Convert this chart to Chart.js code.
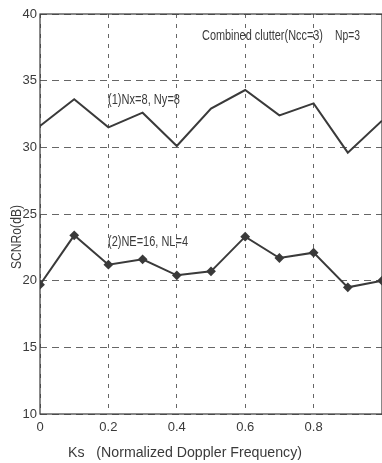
<!DOCTYPE html>
<html>
<head>
<meta charset="utf-8">
<script src="https://cdn.jsdelivr.net/npm/chart.js@4"></script>
<style>
  html, body { margin: 0; padding: 0; background: #fff; overflow: hidden; }
  #wrap { width: 388px; height: 463px; }
</style>
</head>
<body>
<div id="wrap"><canvas id="lineChart"></canvas></div>
<script>
const ks = [0, 0.1, 0.2, 0.3, 0.4, 0.5, 0.6, 0.7, 0.8, 0.9, 1.0]
const nxny = [31.6, 33.6, 31.5, 32.6, 30.1, 32.9, 34.3, 32.4, 33.3, 29.6, 32.0]
const neNl = [19.7, 23.4, 21.2, 21.6, 20.4, 20.7, 23.3, 21.7, 22.1, 19.5, 20.0]
const xTicks = [0, 0.2, 0.4, 0.6, 0.8]
const yTicks = [10, 15, 20, 25, 30, 35, 40]

const FONT = '"Liberation Sans", Arial, sans-serif'
const INK = '#3a3a3a'

// text squeezed into a given width (the scan uses a narrow face)
function narrow(ctx, text, x, y, width) {
    const w = ctx.measureText(text).width
    ctx.save()
    ctx.translate(x, y)
    ctx.scale(width / w, 1)
    ctx.fillText(text, 0, 0)
    ctx.restore()
}

// frame + annotations, drawn on top
const paperPlugin = {
    id: 'paper',
    afterDraw(chart) {
        const ctx = chart.ctx
        const a = chart.chartArea
        ctx.save()
        ctx.strokeStyle = INK
        ctx.lineWidth = 1.2
        ctx.strokeRect(a.left, a.top, a.right - a.left, a.bottom - a.top)

        ctx.fillStyle = INK
        ctx.font = '14px ' + FONT
        ctx.textBaseline = 'middle'
        ctx.textAlign = 'left'
        narrow(ctx, 'Combined clutter(Ncc=3)', 202, 36, 121)
        narrow(ctx, 'Np=3', 335, 36, 25)
        narrow(ctx, '(1)Nx=8, Ny=8', 108, 100, 72)
        narrow(ctx, '(2)NE=16, NL=4', 108, 242, 80)
        narrow(ctx, 'Ks   (Normalized Doppler Frequency)', 68, 453, 234)

        ctx.translate(17, 269)
        ctx.rotate(-Math.PI / 2)
        narrow(ctx, 'SCNRo(dB)', 0, 0, 64)
        ctx.restore()
    }
}

let chart = new Chart(document.getElementById('lineChart'), {
    type: 'line',
    data: {
        datasets: [
            {
                label: '(1)Nx=8, Ny=8',
                data: ks.map((k, i) => ({x: k, y: nxny[i]})),
                borderColor: INK,
                borderWidth: 2,
                pointRadius: 0,
                tension: 0
            },
            {
                label: '(2)NE=16, NL=4',
                data: ks.map((k, i) => ({x: k, y: neNl[i]})),
                borderColor: INK,
                borderWidth: 2,
                pointStyle: 'rectRot',
                pointRadius: 3.5,
                pointBackgroundColor: INK,
                pointBorderColor: INK,
                tension: 0
            }
        ]
    },
    options: {
        responsive: true,
        maintainAspectRatio: false,
        animation: false,
        layout: {padding: {left: 0, top: 14, right: 3, bottom: 0}},
        plugins: {legend: {display: false}, tooltip: {enabled: false}},
        scales: {
            x: {
                type: 'linear',
                min: 0,
                max: 1,
                afterBuildTicks: s => { s.ticks = xTicks.map(v => ({value: v})) },
                afterFit: s => { s.height = 49 },
                ticks: {color: INK, font: {size: 13, family: FONT}, padding: 6, maxRotation: 0},
                grid: {color: '#666', lineWidth: 1, drawTicks: false},
                border: {display: false, dash: [4, 6]}
            },
            y: {
                min: 10,
                max: 40,
                afterBuildTicks: s => { s.ticks = yTicks.map(v => ({value: v})) },
                afterFit: s => { s.width = 40 },
                ticks: {color: INK, font: {size: 13, family: FONT}, padding: 3},
                grid: {color: '#666', lineWidth: 1, drawTicks: false},
                border: {display: false, dash: [7, 5]}
            }
        }
    },
    plugins: [paperPlugin]
})
</script>
</body>
</html>
